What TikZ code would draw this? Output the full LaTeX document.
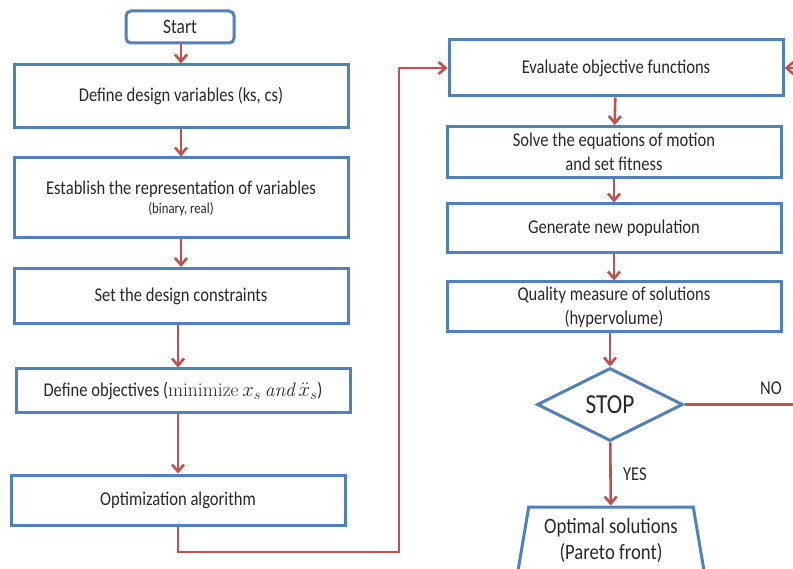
\documentclass[tikz,border=0pt]{standalone}
\usepackage{fontspec}
\setmainfont{Carlito}[FakeStretch=0.85]
\newfontfamily\mathserif{Latin Modern Roman}
\usetikzlibrary{positioning,arrows.meta,calc,shapes.geometric}
\definecolor{BoxBlue}{RGB}{79,129,189}
\definecolor{ArrowRed}{RGB}{192,80,77}
\definecolor{TextGrey}{RGB}{40,40,40}

\begin{document}
\begin{tikzpicture}[x=1pt,y=-1pt, every node/.style={font=\fontsize{19.5}{24}\selectfont, align=center, text=TextGrey}]
\tikzset{
  stepbox/.style={draw=BoxBlue, line width=3pt, fill=white, minimum width=334pt, inner sep=2pt},
  startbox/.style={draw=BoxBlue, line width=3pt, rounded corners=5pt, fill=white, minimum width=108pt, minimum height=32pt, font=\fontsize{20.5}{24}\selectfont},
  decision/.style={diamond, draw=BoxBlue, line width=3pt, fill=white, inner sep=0pt, aspect=2, minimum width=146pt, minimum height=73pt, font=\fontsize{27.5}{30}\selectfont},
  outbox/.style={trapezium, trapezium left angle=79.5, trapezium right angle=79.5, trapezium stretches=true, draw=BoxBlue, line width=3pt, fill=white, minimum width=187pt, minimum height=66pt, font=\fontsize{22}{26}\selectfont},
  flow/.style={-{Straight Barb[length=7pt,width=12pt]}, line width=2.6pt, ArrowRed},
  loopline/.style={line width=2.6pt, ArrowRed},
  answer/.style={font=\fontsize{19.5}{22}\selectfont}
}
  \useasboundingbox (0,0) rectangle (793,569);
  \clip (0,0) rectangle (793,569);
  % left column
  \node[startbox] (start) at (180,27) {Start};
  \node[stepbox, minimum height=63pt] (vars) at (181,96.5) {Define design variables (ks, cs)};
  \node[stepbox, minimum height=80pt] (repr) at (181,198)
    {Establish the representation of variables\\[-5pt]{\fontsize{15}{17}\selectfont (binary, real)}};
  \node[stepbox, minimum height=55pt] (cons) at (181,296) {Set the design constraints};
  \node[stepbox, minimum height=44pt] (objs) at (183,391)
    {Define objectives ({\mathserif minimize} $x_s$ {\mathserif\itshape and} $\ddot{x}_s$)};
  \node[stepbox, minimum height=50pt] (optim) at (178,500) {Optimization algorithm};
  % right column
  \node[stepbox, minimum height=56pt] (eval) at (616,68) {Evaluate objective functions};
  \node[stepbox, minimum height=51pt] (solve) at (614,152) {Solve the equations of motion\\and set fitness};
  \node[stepbox, minimum height=49pt] (newpop) at (614,228.5) {Generate new population};
  \node[stepbox, minimum height=50pt] (quality) at (614,307) {Quality measure of solutions\\(hypervolume)};
  \node[decision] (stop) at (610,404.5) {STOP};
  \node[outbox] (pareto) at (611,540) {Optimal solutions\\(Pareto front)};
  \coordinate (loopA) at (178,552);
  \coordinate (loopB) at (399,552);
  \coordinate (loopC) at (399,68);
  \coordinate (noA) at (801,404.5);
  \coordinate (noB) at (801,68);

  \draw[flow] (start.south -| vars) -- (vars);
  \draw[flow] (vars) -- (repr);
  \draw[flow] (repr) -- (cons);
  \draw[flow] (cons.south -| optim) -- (objs.north -| optim);
  \draw[flow] (objs.south -| optim) -- (optim);
  \draw[loopline] (optim.south) -- (loopA) -- (loopB) -- (loopC);
  \draw[flow] (loopC) -- (eval.west);
  \draw[flow] (eval) -- (solve);
  \draw[flow] (solve) -- (newpop);
  \draw[flow] (newpop) -- (quality);
  \draw[flow] (quality.south -| stop.north) -- (stop.north);
  \draw[flow] (stop) -- node[answer, right=8pt]{YES} (pareto);
  \draw[loopline] (stop.east) -- (noA) -- (noB);
  \draw[flow] (noB) -- (eval.east);
  \node[answer] (nolabel) at (771,388) {NO};
\end{tikzpicture}
\end{document}
